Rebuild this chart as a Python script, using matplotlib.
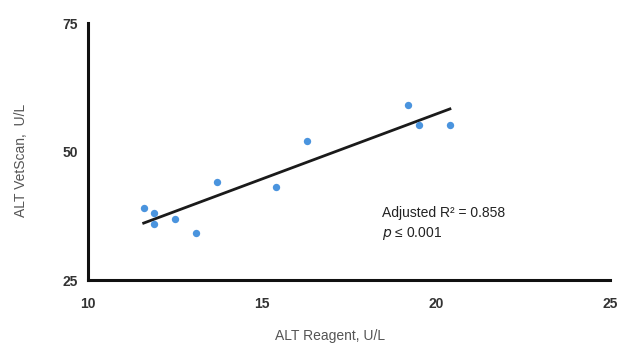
from matplotlib import pyplot as plt
import numpy as np

plt.rcParams['font.family'] = ['Liberation Sans', 'DejaVu Sans']

alt_reagent = [11.6, 11.9, 11.9, 12.5, 13.1, 13.7, 15.4, 16.3, 19.2, 19.5, 20.4]
alt_vetscan = [39.0, 38.0, 35.9, 36.9, 34.1, 44.1, 43.1, 52.0, 59.0, 55.2, 55.2]
x_ticks = [10, 15, 20, 25]
y_ticks = [25, 50, 75]

fig = plt.figure(figsize=(6.22, 3.47), dpi=100)
ax = fig.add_axes([0.1415, 0.193, 0.8392, 0.7407])

ax.scatter(alt_reagent, alt_vetscan, s=28, color='#4a94de', zorder=3, linewidths=0)

slope, intercept = np.polyfit(alt_reagent, alt_vetscan, 1)
fit_x = np.array([min(alt_reagent), max(alt_reagent)])
ax.plot(fit_x, slope * fit_x + intercept, color='#1a1a1a', linewidth=2, zorder=2)

ax.text(18.45, 37.3, 'Adjusted R² = 0.858', fontsize=10, color='#222222')
ax.text(18.45, 33.4, r'$\it{p}$ ≤ 0.001', fontsize=10, color='#222222')

ax.set_xlim(10, 25)
ax.set_ylim(25, 75)
ax.set_xticks(x_ticks)
ax.set_yticks(y_ticks)
ax.tick_params(length=0, labelsize=10, labelcolor='#333333')
ax.tick_params(axis='x', pad=12)
ax.tick_params(axis='y', pad=7)
for lbl in ax.get_xticklabels() + ax.get_yticklabels():
    lbl.set_fontweight('bold')

for side in ['top', 'right']:
    ax.spines[side].set_visible(False)
for side in ['left', 'bottom']:
    ax.spines[side].set_linewidth(2.2)
    ax.spines[side].set_color('#111111')

ax.set_xlabel('ALT Reagent, U/L', fontsize=10, color='#555555')
ax.set_ylabel('ALT VetScan,  U/L', fontsize=10, color='#555555')
ax.xaxis.set_label_coords(0.464, -0.19)
ax.yaxis.set_label_coords(-0.115, 0.467)

plt.savefig('out.png', dpi=100)
